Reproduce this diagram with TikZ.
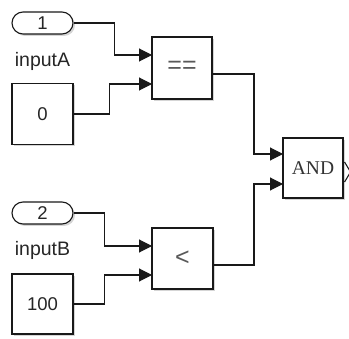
\documentclass[tikz,border=0pt]{standalone}
\usepackage{fontspec}
\setmainfont{Liberation Sans}
\newfontfamily\timesfont{Liberation Serif}
\usetikzlibrary{arrows.meta,shapes.misc,shadows}
\begin{document}
\begin{tikzpicture}[x=1pt,y=-1pt,
  blockshadow/.style={drop shadow={shadow xshift=2pt,shadow yshift=-2pt,opacity=0.3,fill=black!55}},
  blk/.style={draw=black!90,line width=1.1pt,fill=white,inner sep=0pt,blockshadow},
  inport/.style={blk,rounded rectangle,minimum width=61pt,minimum height=22pt,
    font=\fontsize{18.5}{20}\selectfont,text=black!85},
  const/.style={blk,rectangle,minimum width=61pt,minimum height=61pt,
    font=\fontsize{18.5}{20}\selectfont,text=black!85},
  relop/.style={blk,rectangle,minimum width=61pt,minimum height=61pt,
    font=\fontsize{25}{27}\selectfont,text=black!65},
  logic/.style={blk,rectangle,minimum width=60pt,minimum height=60pt,
    font=\timesfont\fontsize{19.5}{21}\selectfont,text=black!80},
  portlabel/.style={font=\fontsize{19.5}{21}\selectfont,text=black!85,inner sep=0pt},
  wire/.style={draw=black!90,line width=1.1pt},
  sig/.style={wire,-{Triangle[length=13pt,width=13pt]}}]

  % canvas
  \useasboundingbox (0,0) rectangle (349,339);

  % sources
  \node[inport] (in1) at (42.5,23) {1};
  \node[portlabel] (in1lbl) at (42.5,61) {inputA};
  \node[const] (c0) at (42.5,114) {0};

  \node[inport] (in2) at (42.5,213) {2};
  \node[portlabel] (in2lbl) at (42.5,250) {inputB};
  \node[const,minimum height=60pt] (c100) at (42.5,304) {100};

  % relational operators and logic
  \node[relop,minimum width=60pt,minimum height=62pt] (eq) at (182,68) {\raisebox{0.5pt}{==}};
  \node[relop] (lt) at (182.5,258.5) {<};
  \node[logic] (and) at (313,168) {AND};

  % port positions
  \coordinate (eqA) at (152,55);
  \coordinate (eqB) at (152,84);
  \coordinate (eqOut) at (212,74);
  \coordinate (ltA) at (152,246);
  \coordinate (ltB) at (152,275);
  \coordinate (ltOut) at (213,265);
  \coordinate (andA) at (283,154);
  \coordinate (andB) at (283,184);

  % signal lines
  \draw[sig] (in1.east) -- ++(41,0) |- (eqA);
  \draw[sig] (c0.east) -- ++(36,0) |- (eqB);
  \draw[sig] (in2.east) -- ++(31,0) |- (ltA);
  \draw[sig] (c100.east) -- ++(31,0) |- (ltB);
  \draw[sig] (eqOut) -- ++(42,0) |- (andA);
  \draw[sig] (ltOut) -- ++(41,0) |- (andB);

  % output port chevron of the AND block
  \draw[wire] ([xshift=1pt]and.east |- 0,162) -- ++(6,10) -- ++(-6,10);
\end{tikzpicture}
\end{document}
